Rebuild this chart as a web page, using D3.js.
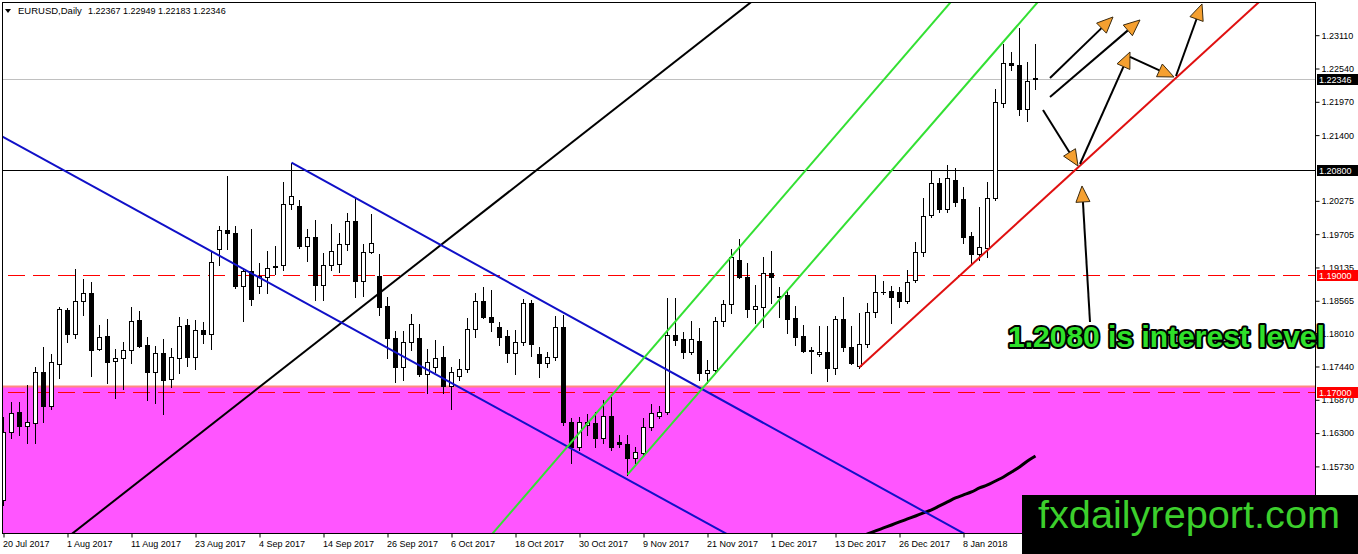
<!DOCTYPE html>
<html><head><meta charset="utf-8">
<script src="https://cdn.jsdelivr.net/npm/d3@7"></script>
<style>body{margin:0;background:#fff;overflow:hidden} svg{display:block}</style>
</head><body>
<svg id="c" width="1358" height="554"></svg>
<script>
// ---------------- DATA ----------------
const symbolTitle = "EURUSD,Daily";
const lastBar = ["1.22367", "1.22949", "1.22183", "1.22346"];

const opens = [1.1515,1.1631,1.1665,1.1641,1.1647,1.1734,1.1676,1.1748,1.1840,1.1799,
1.1855,1.1869,1.1773,1.1795,1.1753,1.1758,1.1771,1.1823,1.1780,1.1734,
1.1766,1.1722,1.1758,1.1814,1.1759,1.1806,1.1799,1.1944,1.1977,1.1972,
1.1881,1.1907,1.1881,1.1896,1.1915,1.1917,1.2021,1.2018,1.1949,1.1965,
1.1883,1.1917,1.1919,1.1953,1.1992,1.1890,1.1939,1.1898,1.1847,1.1792,
1.1742,1.1785,1.1792,1.1730,1.1742,1.1759,1.1710,1.1727,1.1739,1.1807,
1.1855,1.1828,1.1811,1.1795,1.1766,1.1785,1.1852,1.1765,1.1749,1.1759,
1.1811,1.1648,1.1605,1.1643,1.1647,1.1621,1.1658,1.1614,1.1611,1.1587,
1.1595,1.1640,1.1658,1.1665,1.1797,1.1790,1.1768,1.1787,1.1732,1.1737,
1.1821,1.1850,1.1925,1.1896,1.1842,1.1845,1.1903,1.1864,1.1866,1.1826,
1.1795,1.1771,1.1765,1.1768,1.1741,1.1825,1.1777,1.1744,1.1782,1.1837,
1.1871,1.1872,1.1871,1.1855,1.1891,1.1939,1.2003,1.2057,1.2013,1.2062,
1.2030,1.1967,1.1936,1.1946,1.2032,1.2194,1.2263,1.2259,1.2184,1.22367];
const highs = [1.1657,1.1683,1.1683,1.1712,1.1742,1.1777,1.1765,1.1845,1.1843,1.1910,
1.1893,1.1888,1.1814,1.1825,1.1773,1.1785,1.1845,1.1838,1.1794,1.1778,
1.1790,1.1775,1.1828,1.1825,1.1823,1.1819,1.1939,1.1984,1.2069,1.1984,
1.1912,1.1979,1.1920,1.1941,1.1949,1.2059,1.2092,1.2028,1.1979,1.1994,
1.1938,1.1987,1.1972,1.2006,1.2030,1.1953,1.2004,1.1936,1.1862,1.1804,
1.1804,1.1833,1.1816,1.1773,1.1789,1.1778,1.1742,1.1756,1.1826,1.1869,
1.1879,1.1874,1.1819,1.1806,1.1806,1.1859,1.1857,1.1777,1.1768,1.1830,
1.1831,1.1655,1.1657,1.1662,1.1665,1.1686,1.1691,1.1626,1.1626,1.1605,
1.1655,1.1679,1.1676,1.1860,1.1860,1.1802,1.1821,1.1809,1.1754,1.1828,
1.1857,1.1944,1.1961,1.1920,1.1883,1.1931,1.1941,1.1879,1.1874,1.1847,
1.1814,1.1777,1.1813,1.1813,1.1830,1.1862,1.1813,1.1835,1.1852,1.1900,
1.1889,1.1881,1.1879,1.1908,1.1956,1.2032,1.2080,1.2066,1.2088,1.2083,
1.2050,1.1973,1.2016,1.2059,1.2218,1.2295,1.2281,1.2323,1.2264,1.22949];
const lows = [1.1506,1.1621,1.1626,1.1612,1.1612,1.1648,1.1670,1.1723,1.1785,1.1792,
1.1831,1.1727,1.1771,1.1715,1.1689,1.1705,1.1749,1.1777,1.1686,1.1681,
1.1662,1.1708,1.1732,1.1744,1.1739,1.1783,1.1773,1.1917,1.1944,1.1878,
1.1821,1.1848,1.1869,1.1869,1.1901,1.1908,1.2013,1.1946,1.1924,1.1857,
1.1857,1.1908,1.1905,1.1943,1.1862,1.1864,1.1938,1.1831,1.1758,1.1717,
1.1720,1.1771,1.1727,1.1698,1.1734,1.1698,1.1670,1.1720,1.1734,1.1794,
1.1826,1.1804,1.1780,1.1751,1.1730,1.1780,1.1761,1.1725,1.1742,1.1754,
1.1643,1.1578,1.1600,1.1626,1.1605,1.1612,1.1600,1.1605,1.1558,1.1578,
1.1592,1.1635,1.1655,1.1662,1.1780,1.1758,1.1765,1.1720,1.1715,1.1734,
1.1813,1.1835,1.1895,1.1828,1.1818,1.1811,1.1852,1.1828,1.1800,1.1780,
1.1768,1.1732,1.1761,1.1718,1.1730,1.1770,1.1748,1.1741,1.1777,1.1828,
1.1867,1.1818,1.1845,1.1852,1.1888,1.1933,1.1999,1.2008,1.2008,1.2018,
1.1955,1.1920,1.1925,1.1931,1.2028,1.2187,1.2251,1.2174,1.2163,1.22183];
const closes = [1.1631,1.1664,1.1641,1.1648,1.1734,1.1676,1.1751,1.1842,1.1799,1.1855,
1.1869,1.1771,1.1794,1.1751,1.1758,1.1771,1.1821,1.1778,1.1734,1.1766,
1.1720,1.1759,1.1813,1.1759,1.1806,1.1799,1.1922,1.1977,1.1972,1.1881,
1.1907,1.1859,1.1898,1.1912,1.1913,1.2021,1.2035,1.1949,1.1965,1.1883,
1.1917,1.1941,1.1953,1.1992,1.1890,1.1939,1.1955,1.1845,1.1792,1.1742,
1.1785,1.1816,1.1730,1.1751,1.1758,1.1710,1.1734,1.1739,1.1807,1.1855,
1.1828,1.1819,1.1794,1.1766,1.1785,1.1852,1.1782,1.1749,1.1759,1.1811,
1.1648,1.1605,1.1648,1.1648,1.1621,1.1658,1.1605,1.1611,1.1587,1.1597,
1.1640,1.1664,1.1665,1.1797,1.1789,1.1768,1.1790,1.1732,1.1737,1.1821,
1.1850,1.1931,1.1896,1.1842,1.1847,1.1903,1.1896,1.1862,1.1825,1.1794,
1.1770,1.1770,1.1768,1.1741,1.1825,1.1777,1.1749,1.1782,1.1837,1.1871,
1.1870,1.1862,1.1855,1.1888,1.1939,1.2001,1.2057,1.2013,1.2066,1.2025,
1.1965,1.1936,1.1948,1.2032,1.2196,1.2263,1.2259,1.2184,1.2232,1.22346];

// moving average (visible part only), starting at bar index maStart
const maStart = 107;
const maValues = [1.1451,1.14565,1.14617,1.14668,1.14719,1.14771,1.14822,1.14873,1.14925,1.14976,
1.15045,1.15113,1.15181,1.15233,1.15284,1.15352,1.15404,1.15472,1.15541,1.15626,
1.15712,1.15815,1.15900];

// time axis (bar index, label)
const tickBars = [0,8,16,24,32,40,48,56,64,72,80,88,96,104,112,120];
const tickLabels = ["20 Jul 2017","1 Aug 2017","11 Aug 2017","23 Aug 2017","4 Sep 2017","14 Sep 2017",
"26 Sep 2017","6 Oct 2017","18 Oct 2017","30 Oct 2017","9 Nov 2017","21 Nov 2017","1 Dec 2017",
"13 Dec 2017","26 Dec 2017","8 Jan 2018"];

// price axis
const priceTicks = [1.23110,1.22540,1.21970,1.21400,1.20275,1.19705,1.19135,1.18565,1.18010,1.17440,1.16870,1.16300,1.15730,1.15160];

// horizontal levels
const levelStrong = 1.2080;
const dashedLevels = [1.1900, 1.1700];
const zoneTop = 1.1709;
const interestText = "1.2080 is interest level";
const watermark = "fxdailyreport.com";

// trend lines: [[barIndex, price],[barIndex, price]]
const blackTrend = [[8.6875,1.14582],[93.3125,1.23653]];
const blueLower  = [[-0.0625,1.21359],[90.1875,1.14582]];
const blueUpper  = [[36,1.2092],[119.9375,1.14582]];
const greenLeft  = [[61.1875,1.14582],[118.3125,1.23653]];
const greenRight = [[78,1.1558],[129.1875,1.23653]];
const redTrend   = [[107,1.1742],[156.8125,1.23653]];

// arrows: [from, to] in [barIndex, price]
const arrows = [
  [[130.8125,1.22369],[138.6875,1.23413]],
  [[130.8125,1.22044],[142.0625,1.23362]],
  [[129.9375,1.21822],[134.3125,1.20863]],
  [[134.5625,1.20897],[140.8125,1.22814]],
  [[140.8125,1.22729],[146.3125,1.22386]],
  [[146.5625,1.22403],[149.8125,1.23636]],
  [[135.8125,1.18193],[134.8125,1.20521]]
];

// ---------------- DRAW ----------------
const W = 1358, H = 554;
const L = 2, T = 2, R = 1315, B = 533;
const svg = d3.select("#c");
const x = d3.scaleLinear().domain([0, 129]).range([3.5, 1035.5]);
const y = d3.scaleLinear().domain([1.145818, 1.236697]).range([B, T]);

svg.append("rect").attr("width", W).attr("height", H).attr("fill", "#fff");
const defs = svg.append("defs");
defs.append("clipPath").attr("id", "plot").append("rect")
  .attr("x", L).attr("y", T).attr("width", R - L).attr("height", B - T);
const g = svg.append("g").attr("clip-path", "url(#plot)");

// zone
const zy = Math.round(y(zoneTop));
g.append("rect").attr("x", L).attr("y", zy).attr("width", R - L).attr("height", B - zy).attr("fill", "#ff55ff");
g.append("line").attr("x1", L).attr("x2", R).attr("y1", zy + 0.5).attr("y2", zy + 0.5)
  .attr("stroke", "#ff8a80").attr("stroke-width", 2);

// levels
const py = v => Math.round(y(v)) + 0.5;
g.append("line").attr("x1", L).attr("x2", R).attr("y1", py(+lastBar[3])).attr("y2", py(+lastBar[3]))
  .attr("stroke", "#c0c0c0").attr("stroke-width", 1);
g.append("line").attr("x1", L).attr("x2", R).attr("y1", py(levelStrong)).attr("y2", py(levelStrong))
  .attr("stroke", "#000").attr("stroke-width", 1);
dashedLevels.forEach(v => {
  g.append("line").attr("x1", L + 6).attr("x2", R).attr("y1", py(v)).attr("y2", py(v))
    .attr("stroke", "#ff0000").attr("stroke-width", 1).attr("stroke-dasharray", "17,8");
});

// candles
const n = closes.length;
const cg = g.append("g");
d3.range(n).forEach(i => {
  const cx = x(i);
  cg.append("line").attr("x1", cx).attr("x2", cx)
    .attr("y1", Math.round(y(highs[i]))).attr("y2", Math.round(y(lows[i])) + 1)
    .attr("stroke", "#000").attr("stroke-width", 1);
  const top = Math.round(y(Math.max(opens[i], closes[i]))) + 0.5;
  const bot = Math.round(y(Math.min(opens[i], closes[i]))) + 0.5;
  const bull = closes[i] > opens[i];
  if (bot - top < 1) {
    cg.append("line").attr("x1", cx - 2.5).attr("x2", cx + 2.5).attr("y1", top).attr("y2", top)
      .attr("stroke", "#000").attr("stroke-width", 1);
  } else {
    cg.append("rect").attr("x", cx - 2).attr("y", top).attr("width", 4).attr("height", bot - top)
      .attr("fill", bull ? "#fff" : "#000").attr("stroke", "#000").attr("stroke-width", 1);
  }
});

// moving average
g.append("path").datum(maValues)
  .attr("d", d3.line().x((d, k) => x(maStart + k)).y(d => y(d)).curve(d3.curveMonotoneX))
  .attr("fill", "none").attr("stroke", "#000").attr("stroke-width", 3);

// trend lines
function ray(pts, color, both) {
  const [a, b] = pts;
  const x1 = x(a[0]), y1 = y(a[1]), x2 = x(b[0]), y2 = y(b[1]);
  const dx = x2 - x1, dy = y2 - y1, len = Math.hypot(dx, dy);
  const ux = dx / len, uy = dy / len, E = 3000;
  const sx = both ? x1 - ux * E : x1, sy = both ? y1 - uy * E : y1;
  g.append("line").attr("x1", sx).attr("y1", sy).attr("x2", x1 + ux * E).attr("y2", y1 + uy * E)
    .attr("stroke", color).attr("stroke-width", 2);
}
ray(blackTrend, "#000", true);
ray(blueLower, "#1010c8", true);
ray(blueUpper, "#1010c8", false);
ray(greenLeft, "#33e033", true);
ray(greenRight, "#33e033", false);
ray(redTrend, "#e01010", false);

// plot frame & axes
svg.append("rect").attr("x", L + 0.5).attr("y", T + 0.5).attr("width", R - L).attr("height", B - T)
  .attr("fill", "none").attr("stroke", "#000").attr("stroke-width", 1);

const font = "'Liberation Sans', Arial, sans-serif";
const yAxis = d3.axisRight(y).tickValues(priceTicks).tickFormat(d3.format(".5f")).tickSize(4).tickPadding(2);
const ya = svg.append("g").attr("transform", `translate(${R + 0.5},0.5)`).call(yAxis);
ya.select(".domain").remove();
ya.selectAll("text").attr("font-family", font).attr("font-size", 9).attr("fill", "#000");
ya.selectAll("line").attr("stroke", "#000");

const xAxis = d3.axisBottom(x).tickValues(tickBars).tickFormat((d, k) => tickLabels[k]).tickSize(4).tickPadding(3);
const xa = svg.append("g").attr("transform", `translate(0,${B + 0.5})`).call(xAxis);
xa.select(".domain").remove();
xa.selectAll("text").attr("font-family", font).attr("font-size", 9).attr("fill", "#000")
  .attr("text-anchor", "start").attr("dx", -1);
xa.selectAll("line").attr("stroke", "#000");

// price labels on axis
function priceTag(v, txt, bg) {
  const yy = Math.round(y(v));
  svg.append("rect").attr("x", R + 2).attr("y", yy - 5).attr("width", W - R - 2).attr("height", 11).attr("fill", bg);
  svg.append("text").attr("x", R + 4).attr("y", yy + 4).attr("font-family", font).attr("font-size", 9)
    .attr("fill", "#fff").text(txt);
}
priceTag(+lastBar[3], lastBar[3], "#000");
priceTag(levelStrong, "1.20800", "#000");
priceTag(dashedLevels[0], "1.19000", "#f00");
priceTag(dashedLevels[1], "1.17000", "#f00");

// header
svg.append("path").attr("d", "M5,9 L11,9 L8,13 Z").attr("fill", "#000");
svg.append("text").attr("x", 18).attr("y", 14).attr("font-family", font).attr("font-size", 9.5)
  .text(symbolTitle);
svg.append("text").attr("x", 88).attr("y", 14).attr("font-family", font).attr("font-size", 9)
  .attr("xml:space", "preserve").text(lastBar.join(" "));

// arrows
const ag = svg.append("g");
arrows.forEach(([a, b]) => {
  const x1 = x(a[0]), y1 = y(a[1]), x2 = x(b[0]), y2 = y(b[1]);
  const dx = x2 - x1, dy = y2 - y1, len = Math.hypot(dx, dy);
  const ux = dx / len, uy = dy / len, hl = 16, hw = 7;
  const bx = x2 - ux * hl, by = y2 - uy * hl;
  ag.append("line").attr("x1", x1).attr("y1", y1).attr("x2", bx).attr("y2", by)
    .attr("stroke", "#000").attr("stroke-width", 2);
  const p = [[x2, y2], [bx - uy * hw, by + ux * hw], [bx + uy * hw, by - ux * hw]];
  ag.append("path").attr("d", "M" + p.map(q => q.join(",")).join("L") + "Z")
    .attr("fill", "#f5a030").attr("stroke", "#3a2a10").attr("stroke-width", 1);
});

// annotation text
svg.append("text").attr("x", 1008).attr("y", 347).attr("font-family", font).attr("font-weight", "bold")
  .attr("font-size", 30).attr("fill", "#2fe02a").attr("stroke", "#000").attr("stroke-width", 4)
  .attr("paint-order", "stroke").attr("stroke-linejoin", "round").text(interestText);

// watermark
svg.append("rect").attr("x", 1022).attr("y", 495).attr("width", W - 1022).attr("height", H - 495).attr("fill", "#000");
svg.append("text").attr("x", 1038).attr("y", 528).attr("font-family", font).attr("font-size", 38)
  .attr("fill", "#3ccf2c").attr("textLength", 302).attr("lengthAdjust", "spacingAndGlyphs").text(watermark);
</script>
</body></html>
